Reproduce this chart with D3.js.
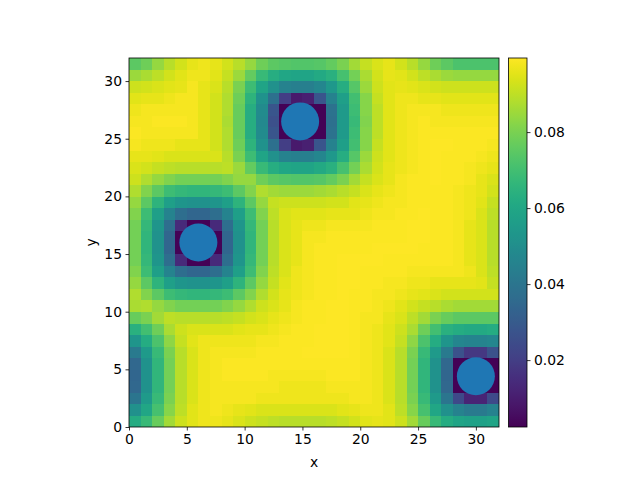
<!DOCTYPE html>
<html><head><meta charset="utf-8">
<script src="https://cdn.jsdelivr.net/npm/d3@7"></script>
<style>
body{margin:0;background:#fff}
svg{display:block}
text{font-family:"DejaVu Sans",sans-serif}
</style>
</head><body>
<svg id="chart" width="640" height="480"></svg>
<script>
// grid values (unit 0.001), row 0 = y in [0,1], column 0 = x in [0,1]
const valueScale = 0.001;
const gridRows = [
[62,68,77,86,92,95,97,97,96,94,92,91,90,89,89,89,89,90,91,93,95,96,95,92,86,77,68,62,59,58,58,59],
[51,60,71,82,90,95,97,98,97,96,95,94,94,94,94,94,94,94,95,96,97,97,95,90,82,71,60,51,45,42,42,45],
[40,55,68,80,89,94,97,98,98,98,98,97,97,97,97,97,97,97,97,98,98,97,94,89,80,68,55,40,24,12,12,24],
[35,52,66,79,89,94,97,98,98,98,98,98,98,97,97,97,97,98,98,98,98,97,94,89,79,66,52,35,3,3,3,3],
[34,52,66,79,89,94,97,98,99,99,99,99,98,98,98,98,98,99,99,99,98,97,94,89,79,66,52,34,3,2.4,2.4,3],
[35,52,66,79,89,94,97,98,99,99,99,99,99,99,99,99,99,99,99,99,98,97,94,89,79,66,52,35,3,3,3,3],
[42,55,68,80,89,94,97,98,98,98,98,99,99,99,99,99.5,99.5,99.5,99.5,99,98,97,94,89,80,68,55,42,27,18,18,27],
[53,62,72,83,91,95,97,97,97,97,97,98,98,99,99,99,99.5,99.5,99.5,99,98,97,95,91,83,72,62,53,47,46,46,47],
[64,70,78,87,92,94,94,94,94,95,96,96,97,98,99,99,99.5,99.5,99.5,99,98,97,95,92,87,78,70,64,62,61,61,62],
[77,80,86,90,89,89,89,89,90,91,93,94,96,97,98,99,99,99.5,99.5,99,98,98,96,94,90,86,80,77,75,75,75,75],
[87,88,84,81,79,79,79,79,81,84,88,92,94,96,98,99,99,99.5,99.5,99,99,98,97,95,93,91,89,87,86,86,86,86],
[88,81,75,69,67,66,66,67,69,75,81,88,93,96,97,98,99,99,99.5,99,99,98,98,97,96,95,94,93,93,93,93,93],
[84,75,65,57,53,52,52,53,57,65,75,84,91,95,97,98,99,99,99.5,99.5,99,99,98,98,97,97,96,96,96,96,95,91],
[81,69,57,46,37,34,34,37,46,57,69,81,90,94,97,98,99,99,99.5,99.5,99,99,99,99,98,98,98,98,98,97,94,90],
[79,67,53,37,14,3,3,14,37,53,67,79,89,94,96,98,99,99,99.5,99.5,99.5,99.5,99,99,99,99,99,99,98,96,94,89],
[79,66,52,34,3,2.4,2.4,3,34,52,66,79,89,94,96,98,99,99,99,99,99,99.5,99.5,99.5,99.5,99,99,99,98,96,94,89],
[79,66,52,34,3,2.4,2.4,3,34,52,66,79,89,94,96,98,98,99,99,99,99,99,99,99,99.5,99.5,99,99,98,96,94,89],
[79,67,53,37,14,3,3,14,37,53,67,79,89,94,96,97,97,98,98,98,98,99,99,99,99.5,99.5,99,99,98,96,94,89],
[81,69,57,46,37,34,34,37,46,57,69,81,90,94,95,95,95,96,96,96,97,98,98,99,99,99.5,99,99,98,97,94,90],
[84,75,65,57,53,52,52,53,57,65,75,84,91,92,92,92,92,93,93,95,96,97,98,98,99,99,99,99,98,97,95,91],
[88,81,75,69,67,66,66,67,69,75,81,88,86,85,85,85,86,87,89,91,94,96,97,98,99,99,99,99,98,97,96,93],
[92,88,84,81,79,79,79,79,81,84,84,78,75,74,73,73,74,76,80,86,91,94,96,98,99,99,99.5,99,99,98,96,94],
[94,93,91,90,89,89,89,89,90,85,76,68,63,60,59,59,61,64,71,79,87,93,96,97,98,99,99.5,99,99,98,97,96],
[96,96,95,94,94,94,94,94,89,80,69,59,51,45,44,44,47,54,63,74,85,92,95,97,98,99,99.5,99,99,99,98,97],
[98,97,97,97,96,96,96,93,88,78,65,52,38,20,9,11,28,45,57,70,82,91,95,97,98,99,99.5,99.5,99,99,99,98],
[99,98,98,98,98,98,96,93,88,77,63,49,28,3,3,3,3,39,55,69,82,90,95,97,98,99,99,99,99,99,99,99],
[98,98,99,99,99,98,96,93,87,77,63,48,26,3,2.4,2.4,3,38,55,68,81,90,95,97,98,99,98,98,98,98,98,98],
[97,98,98,98,98,98,96,93,88,77,63,49,28,3,3,3,3,39,55,69,82,90,95,97,98,98,98,97,97,97,97,97],
[95,96,96,97,98,98,96,93,88,78,65,52,38,20,9,11,28,45,57,70,82,91,95,97,97,96,96,95,95,95,95,95],
[92,93,94,95,96,98,96,94,89,80,69,59,51,45,44,44,47,54,63,74,85,92,95,96,95,94,93,92,92,92,92,92],
[85,87,90,93,95,97,97,95,91,85,76,68,63,60,59,59,61,64,71,79,87,93,96,95,93,90,87,85,84,84,84,84],
[75,78,84,89,93,96,97,96,93,89,84,78,75,74,73,73,74,76,80,86,91,94,96,93,89,84,78,75,72,72,72,72]
];
const pointsX = [6, 14.8, 30];
const pointsY = [16, 26.5, 4.4];
const axisTicks = [0, 5, 10, 15, 20, 25, 30];
const colorbarTicks = [0.02, 0.04, 0.06, 0.08];
const gridSize = 32;

const svg = d3.select("#chart");
const FONT = 13.9;
const x = d3.scaleLinear().domain([0, gridSize]).range([129, 499]);
const y = d3.scaleLinear().domain([0, gridSize]).range([427, 58]);

const cells = gridRows.flatMap((row, j) => row.map((v, i) => ({i, j, v: v * valueScale})));
const ext = d3.extent(cells, d => d.v);
const color = d3.scaleSequential(d3.interpolateViridis).domain(ext);

svg.append("g").attr("shape-rendering", "crispEdges")
  .selectAll("rect").data(cells).join("rect")
  .attr("x", d => x(d.i)).attr("y", d => y(d.j + 1))
  .attr("width", d => x(d.i + 1) - x(d.i) + 0.3)
  .attr("height", d => y(d.j) - y(d.j + 1) + 0.3)
  .attr("fill", d => color(d.v));

// points
svg.append("g").selectAll("circle").data(pointsX.map((px, k) => ({px, py: pointsY[k]}))).join("circle")
  .attr("cx", d => x(d.px)).attr("cy", d => y(d.py)).attr("r", 19)
  .attr("fill", "#1f77b4");

// axes
function styleAxis(g) {
  g.selectAll(".domain").remove();
  g.selectAll(".tick line").attr("stroke", "#000").attr("stroke-width", 0.8);
  g.selectAll(".tick text").attr("font-size", FONT).attr("fill", "#000").attr("font-family", "DejaVu Sans");
}
svg.append("g").attr("transform", "translate(0,427)")
  .call(d3.axisBottom(x).tickValues(axisTicks).tickFormat(d3.format("d")).tickSize(3.5).tickPadding(3.5).tickSizeOuter(0))
  .call(styleAxis);
svg.append("g").attr("transform", "translate(129,0)")
  .call(d3.axisLeft(y).tickValues(axisTicks).tickFormat(d3.format("d")).tickSize(3.5).tickPadding(3.5).tickSizeOuter(0))
  .call(styleAxis);

svg.append("rect").attr("x", 129).attr("y", 58).attr("width", 370).attr("height", 369)
  .attr("fill", "none").attr("stroke", "#000").attr("stroke-width", 0.8);

svg.append("text").attr("x", 314).attr("y", 466.5).attr("text-anchor", "middle")
  .attr("font-size", FONT).text("x");
svg.append("text").attr("transform", "translate(95.5,242.5) rotate(-90)").attr("text-anchor", "middle")
  .attr("font-size", FONT).text("y");

// colorbar
const cbX = 508.5, cbW = 18.5;
const cb = d3.scaleLinear().domain(ext).range([427, 58]);
const defs = svg.append("defs");
const grad = defs.append("linearGradient").attr("id", "cbgrad")
  .attr("x1", 0).attr("y1", 1).attr("x2", 0).attr("y2", 0);
d3.range(0, 1.0001, 0.02).forEach(t => {
  grad.append("stop").attr("offset", t).attr("stop-color", d3.interpolateViridis(t));
});
svg.append("rect").attr("x", cbX).attr("y", 58).attr("width", cbW).attr("height", 369)
  .attr("fill", "url(#cbgrad)");
svg.append("rect").attr("x", cbX).attr("y", 58).attr("width", cbW).attr("height", 369)
  .attr("fill", "none").attr("stroke", "#000").attr("stroke-width", 0.8);
svg.append("g").attr("transform", `translate(${cbX + cbW},0)`)
  .call(d3.axisRight(cb).tickValues(colorbarTicks).tickFormat(d3.format(".2f")).tickSize(3.5).tickPadding(3.5).tickSizeOuter(0))
  .call(styleAxis);
</script>
</body></html>
